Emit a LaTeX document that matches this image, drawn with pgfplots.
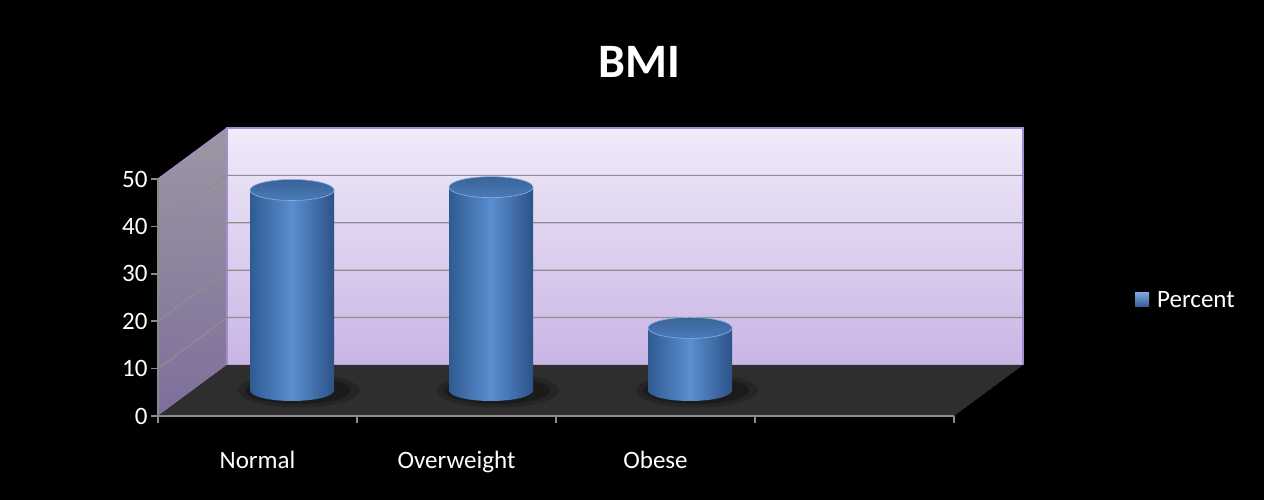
\documentclass[border=0pt]{standalone}
\usepackage{pgfplots}
\pgfplotsset{compat=1.18}
\usepackage{fontspec}
\setmainfont{Carlito}
\usetikzlibrary{shapes.geometric}
\definecolor{wallTop}{HTML}{F0EBF9}
\definecolor{wallBot}{HTML}{C9B5E5}
\definecolor{sideTop}{HTML}{9C97A4}
\definecolor{sideBot}{HTML}{7E6E9A}
\definecolor{floorC}{HTML}{2E2E2E}
\definecolor{gridC}{HTML}{8E8E8E}
\definecolor{edgeC}{HTML}{A48DCF}
\definecolor{cylDark}{HTML}{2F5B92}
\definecolor{cylLight}{HTML}{5A8ED0}
\definecolor{cylRight}{HTML}{2C5389}
\definecolor{topA}{HTML}{3A6398}
\definecolor{topB}{HTML}{4A7AB8}
\definecolor{axisC}{HTML}{8A8A8A}
\begin{document}
\begin{tikzpicture}
\useasboundingbox (0,0) rectangle (1264pt,500pt);
\fill[black] (0,0) rectangle (1264pt,500pt);
\node[text=white, font=\fontsize{48}{56}\selectfont\bfseries] at (639pt,438pt) {BMI};
% front frame: walls, floor, axes, bar bases
\begin{axis}[
  at={(158pt,84pt)}, anchor=south west,
  scale only axis, width=796pt, height=237pt,
  xmin=0, xmax=4, ymin=0, ymax=50, clip=false,
  axis on top,
  axis x line*=bottom, axis y line*=left,
  axis line style={axisC, line width=1.5pt, -},
  ytick={0,10,...,50},
  xtick={0,1,2,3,4}, xticklabels={},
  tick align=outside, major tick length=7pt,
  tick style={axisC, line width=1.5pt},
  yticklabel style={text=white, font=\fontsize{25}{30}\selectfont},
  /pgf/number format/assume math mode=true,
]
\fill[top color=sideTop, bottom color=sideBot] (axis cs:0,0) -- (axis cs:0.3467,10.76) -- (axis cs:0.3467,60.76) -- (axis cs:0,50) -- cycle;
\fill[top color=wallTop, bottom color=wallBot] (axis cs:0.3467,10.76) rectangle (axis cs:4.3467,60.76);
\draw[edgeC, line width=1.2pt] (axis cs:0.3467,10.76) -- (axis cs:0.3467,60.76) -- (axis cs:4.3467,60.76) -- (axis cs:4.3467,10.76);
\draw[edgeC, line width=1.2pt] (axis cs:0,50) -- (axis cs:0.3467,60.76);
\fill[floorC] (axis cs:0,0) -- (axis cs:4,0) -- (axis cs:4.3467,10.76) -- (axis cs:0.3467,10.76) -- cycle;
\draw[gridC, line width=1.2pt] (axis cs:0,10) -- (axis cs:0.3467,20.76) -- (axis cs:4.3467,20.76);
\draw[gridC, line width=1.2pt] (axis cs:0,20) -- (axis cs:0.3467,30.76) -- (axis cs:4.3467,30.76);
\draw[gridC, line width=1.2pt] (axis cs:0,30) -- (axis cs:0.3467,40.76) -- (axis cs:4.3467,40.76);
\draw[gridC, line width=1.2pt] (axis cs:0,40) -- (axis cs:0.3467,50.76) -- (axis cs:4.3467,50.76);
\node[anchor=base, text=white, font=\fontsize{25}{30}\selectfont] at (axis cs:0.5,0) [yshift=-53pt] {Normal};
\node[anchor=base, text=white, font=\fontsize{25}{30}\selectfont] at (axis cs:1.5,0) [yshift=-53pt] {Overweight};
\node[anchor=base, text=white, font=\fontsize{25}{30}\selectfont] at (axis cs:2.5,0) [yshift=-53pt] {Obese};
% soft shadows and bottom caps of the cylinders, at mid depth
\addplot[draw=none, mark=none, nodes near coords={},
  every node near coord/.append style={ellipse, anchor=center, minimum width=122pt, minimum height=34pt, inner sep=0pt, fill=black, fill opacity=0.18, xshift=7pt}]
  coordinates {(0.6733,5.38) (1.6733,5.38) (2.6733,5.38)};
\addplot[draw=none, mark=none, nodes near coords={},
  every node near coord/.append style={ellipse, anchor=center, minimum width=106pt, minimum height=27pt, inner sep=0pt, fill=black, fill opacity=0.25, xshift=6pt}]
  coordinates {(0.6733,5.38) (1.6733,5.38) (2.6733,5.38)};
\addplot[draw=none, mark=none, nodes near coords={},
  every node near coord/.append style={ellipse, anchor=center, minimum width=84pt, minimum height=21pt, inner sep=0pt, left color=cylDark, right color=cylRight, middle color=cylLight}]
  coordinates {(0.6733,5.38) (1.6733,5.38) (2.6733,5.38)};
\end{axis}
% cylinders at mid depth
\begin{axis}[
  at={(192.5pt,109.5pt)}, anchor=south west,
  scale only axis, width=796pt, height=237pt,
  xmin=0, xmax=4, ymin=0, ymax=50, clip=false,
  hide axis,
  legend style={at={(1.184,0.382)}, anchor=west, draw=none, fill=none,
    text=white, font=\fontsize{25}{30}\selectfont, inner sep=0pt},
  legend image code/.code={\fill[top color=cylLight!80!white, bottom color=cylDark] (2pt,-7pt) rectangle (16pt,7pt); \path (22pt,0pt);},
]
\addplot[ybar, bar width=84pt, bar shift=0pt, draw=none, left color=cylDark, right color=cylRight, middle color=cylLight]
  coordinates {(0.5,42.3)};
\addlegendentry{Percent}
\addplot[ybar, bar width=84pt, bar shift=0pt, draw=none, left color=cylDark, right color=cylRight, middle color=cylLight, forget plot]
  coordinates {(1.5,42.9)};
\addplot[ybar, bar width=84pt, bar shift=0pt, draw=none, left color=cylDark, right color=cylRight, middle color=cylLight, forget plot]
  coordinates {(2.5,13.2)};
\addplot[draw=none, mark=none, forget plot, nodes near coords={},
  every node near coord/.append style={ellipse, anchor=center, minimum width=84pt, minimum height=21pt, inner sep=0pt, top color=topA, bottom color=topB, draw=cylLight!70!white, line width=0.6pt}]
  coordinates {(0.5,42.3) (1.5,42.9) (2.5,13.2)};
\end{axis}
\end{tikzpicture}
\end{document}
